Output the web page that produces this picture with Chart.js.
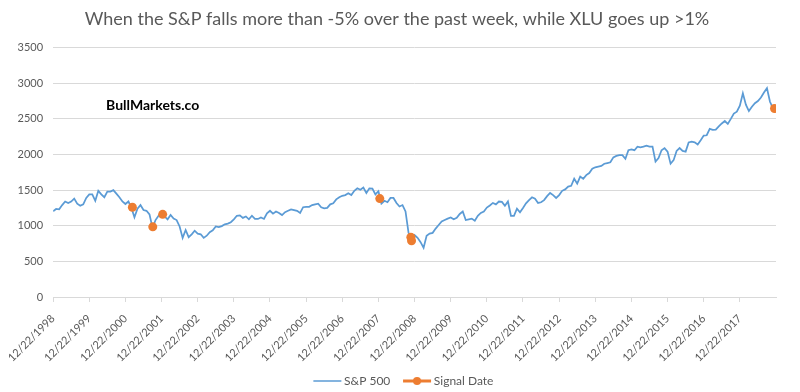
<!DOCTYPE html>
<html>
<head>
<meta charset="utf-8">
<title>S&amp;P 500 signal dates</title>
<script src="https://cdn.jsdelivr.net/npm/chart.js@4.4.1/dist/chart.umd.min.js"></script>
<style>
  html, body { margin: 0; padding: 0; background: #fff; }
  #wrap { width: 800px; height: 392px; }
</style>
</head>
<body>
<div id="wrap"><canvas id="spx-chart" width="800" height="392"></canvas></div>
<script>
// S&P 500 level, one reading per month starting 12/22/1998
const startDate = '1998-12-22';
const spx1998to2002 = [1203,
    1235, 1230, 1290, 1340, 1320, 1340, 1380, 1310, 1280, 1300, 1390, 1440,
    1440, 1350, 1490, 1440, 1400, 1480, 1480, 1500, 1450, 1400, 1340, 1305,
    1340, 1250, 1120, 1240, 1290, 1220, 1210, 1160, 970, 1080, 1140, 1150,
    1130, 1090, 1150, 1100, 1080, 990, 830, 940, 840, 880, 930, 890];
const spx2003to2007 = [
    880, 830, 860, 910, 935, 990, 980, 995, 1020, 1030, 1050, 1090,
    1140, 1145, 1110, 1130, 1090, 1140, 1095, 1095, 1115, 1095, 1175, 1210,
    1170, 1200, 1180, 1150, 1190, 1210, 1230, 1220, 1210, 1180, 1260, 1265,
    1265, 1290, 1300, 1310, 1260, 1245, 1250, 1300, 1315, 1370, 1400, 1420,
    1430, 1455, 1430, 1490, 1525, 1505, 1535, 1460, 1525, 1520, 1440, 1485];
const spx2008to2012 = [
    1310, 1350, 1330, 1390, 1390, 1320, 1270, 1290, 1200, 900, 810, 870,
    830, 770, 690, 860, 890, 900, 960, 1010, 1060, 1080, 1100, 1115,
    1090, 1110, 1165, 1200, 1080, 1090, 1100, 1070, 1140, 1180, 1200, 1255,
    1285, 1320, 1300, 1340, 1335, 1280, 1340, 1140, 1140, 1240, 1190, 1250,
    1315, 1360, 1400, 1380, 1320, 1330, 1360, 1415, 1460, 1430, 1390, 1430];
const spx2013to2018 = [
    1490, 1510, 1550, 1560, 1660, 1590, 1690, 1660, 1710, 1740, 1800, 1820,
    1830, 1840, 1870, 1880, 1890, 1960, 1980, 1990, 1990, 1940, 2060, 2070,
    2060, 2110, 2100, 2110, 2125, 2110, 2110, 1900, 1950, 2060, 2090, 2040,
    1870, 1920, 2050, 2090, 2050, 2040, 2170, 2180, 2170, 2140, 2200, 2265,
    2270, 2360, 2345, 2350, 2395, 2435, 2470, 2430, 2500, 2575, 2600, 2685,
    2860, 2700, 2610, 2670, 2720, 2750, 2800, 2870, 2930, 2740, 2650];

// Weeks that fired the signal
const signalDates = ['2001-03-02', '2001-09-24', '2002-01-02', '2008-01-05', '2008-11-14', '2008-11-21', '2018-12-07'];
const signalValues = [1260, 985, 1160, 1381, 840, 790, 2645];

// X axis labels, one per year
const tickLabels = ['12/22/1998', '12/22/1999', '12/22/2000', '12/22/2001', '12/22/2002',
    '12/22/2003', '12/22/2004', '12/22/2005', '12/22/2006', '12/22/2007',
    '12/22/2008', '12/22/2009', '12/22/2010', '12/22/2011', '12/22/2012',
    '12/22/2013', '12/22/2014', '12/22/2015', '12/22/2016', '12/22/2017'];

document.addEventListener('DOMContentLoaded', () => {
    const FONT = 'Lato, "Open Sans", sans-serif';
    const GREY = '#595959';
    const BLUE = '#5B9BD5';
    const ORANGE = '#ED7D31';
    const BOX = 37.5; // legend box width

    Chart.defaults.font.family = FONT;

    // years since the first label
    function yearsSinceStart(dateStr) {
        return (new Date(dateStr) - new Date(startDate)) / (365.25 * 86400000);
    }

    const spxValues = [].concat(spx1998to2002, spx2003to2007, spx2008to2012, spx2013to2018);
    const spxPoints = spxValues.map((v, i) => ({ x: i / 12, y: v }));
    const signalPoints = signalDates.map((d, i) => ({ x: yearsSinceStart(d), y: signalValues[i] }));

    // legend icons: the line sits near the right side so the text follows closely
    function makeIcon(color, width, dot) {
        const c = document.createElement('canvas');
        c.width = 46;
        c.height = 10;
        const g = c.getContext('2d');
        const x0 = BOX - 20.5;
        g.strokeStyle = color;
        g.lineWidth = width;
        g.beginPath();
        g.moveTo(x0, 5);
        g.lineTo(x0 + 28, 5);
        g.stroke();
        if (dot) {
            g.fillStyle = color;
            g.beginPath();
            g.arc(x0 + 14, 5, 4, 0, Math.PI * 2);
            g.fill();
        }
        return c;
    }
    const lineIcon = makeIcon(BLUE, 1.5, false);
    const dotIcon = makeIcon(ORANGE, 3, true);

    // watermark text
    const watermark = {
        id: 'watermark',
        afterDraw(chart) {
            const { ctx, chartArea } = chart;
            ctx.save();
            ctx.font = 'bold 14px ' + FONT;
            ctx.fillStyle = '#000';
            ctx.textBaseline = 'middle';
            ctx.fillText('BullMarkets.co', chartArea.left + 53, chartArea.top + 58);
            ctx.restore();
        }
    };

    new Chart(document.getElementById('spx-chart'), {
        type: 'line',
        data: {
            datasets: [{
                label: 'S&P 500',
                data: spxPoints,
                borderColor: BLUE,
                borderWidth: 1.75,
                pointRadius: 0,
                tension: 0,
                order: 1
            }, {
                label: 'Signal Date',
                data: signalPoints,
                showLine: false,
                borderColor: ORANGE,
                backgroundColor: ORANGE,
                pointRadius: 4.5,
                pointBorderWidth: 0,
                order: 0
            }]
        },
        options: {
            responsive: false,
            animation: false,
            devicePixelRatio: 1,
            layout: { padding: { left: 18, right: 24, top: 0, bottom: -5 } },
            plugins: {
                title: {
                    display: true,
                    text: 'When the S&P falls more than -5% over the past week, while XLU goes up >1%',
                    color: GREY,
                    font: { size: 18, weight: 'normal' },
                    padding: { top: 8, bottom: 18 }
                },
                legend: {
                    position: 'bottom',
                    labels: {
                        usePointStyle: true,
                        pointStyleWidth: BOX,
                        color: GREY,
                        font: { size: 12 },
                        padding: 0,
                        generateLabels: () => [
                            { text: 'S&P 500', pointStyle: lineIcon, fontColor: GREY, lineWidth: 0, hidden: false, datasetIndex: 0 },
                            { text: 'Signal Date', pointStyle: dotIcon, fontColor: GREY, lineWidth: 0, hidden: false, datasetIndex: 1 }
                        ]
                    }
                },
                tooltip: { enabled: false }
            },
            scales: {
                x: {
                    type: 'linear',
                    min: 0,
                    max: 20,
                    afterBuildTicks: (scale) => {
                        scale.ticks = tickLabels.map((_, i) => ({ value: i }));
                    },
                    afterFit: (scale) => { scale.height = 78; },
                    ticks: {
                        autoSkip: false,
                        minRotation: 45,
                        maxRotation: 45,
                        color: GREY,
                        font: { size: 11 },
                        padding: 10,
                        callback: (value) => tickLabels[value]
                    },
                    grid: { drawOnChartArea: false, tickLength: 5, color: '#d9d9d9' },
                    border: { color: '#d9d9d9' }
                },
                y: {
                    min: 0,
                    max: 3500,
                    afterFit: (scale) => { scale.width = 35; },
                    ticks: { stepSize: 500, color: GREY, font: { size: 11 }, padding: 10, callback: (v) => v },
                    grid: { color: '#d9d9d9', drawTicks: false },
                    border: { display: false }
                }
            }
        },
        plugins: [watermark]
    });
});
</script>
</body>
</html>
